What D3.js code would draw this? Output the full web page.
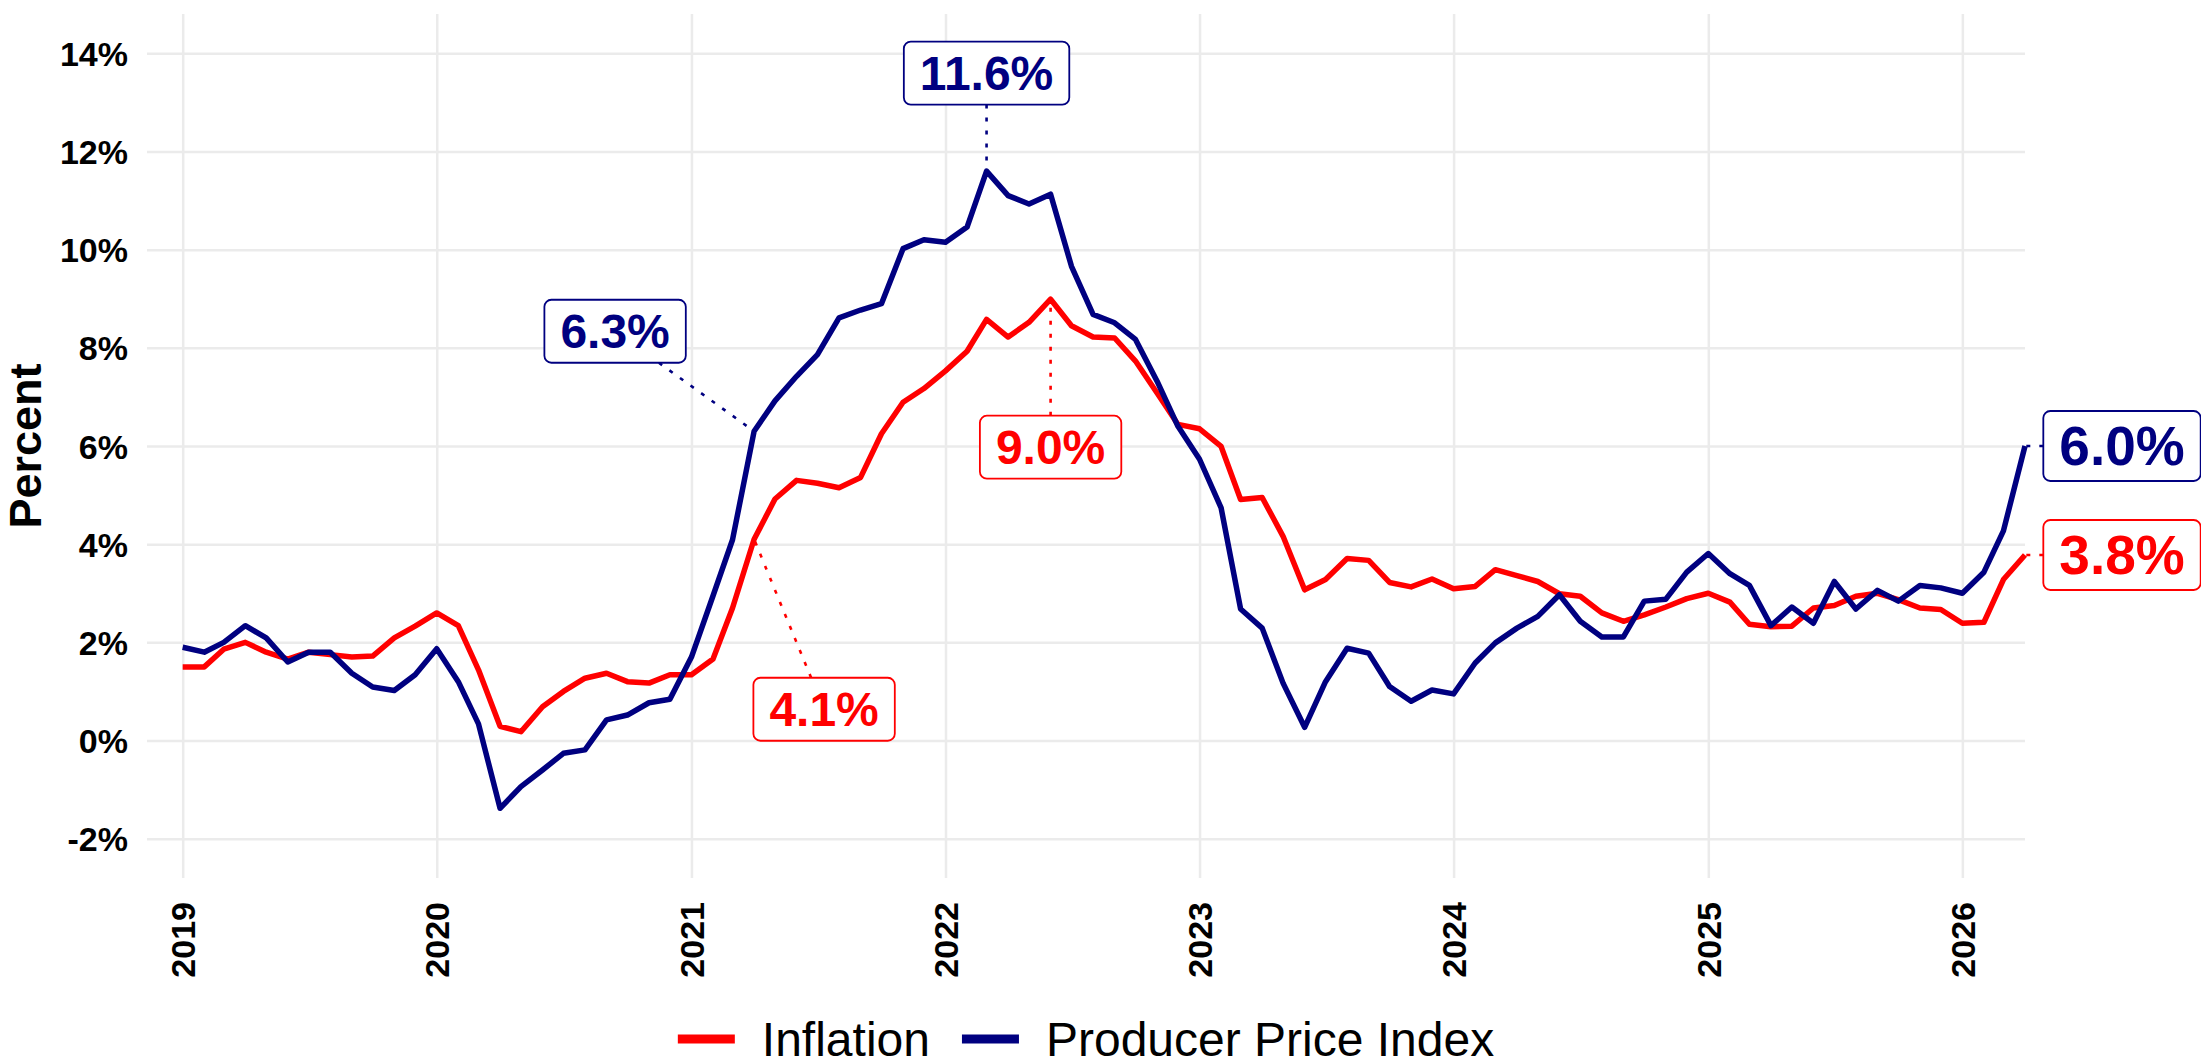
<!DOCTYPE html>
<html>
<head>
<meta charset="utf-8">
<script src="https://cdn.jsdelivr.net/npm/d3@7"></script>
<style>
  body { margin: 0; background: #fff; }
  svg { display: block; font-family: "Liberation Sans", Arial, sans-serif; }
</style>
</head>
<body>
<svg width="2201" height="1064"></svg>
<script>
// monthly, Jan 2019 .. Apr 2026
var firstMonth = new Date(2019, 0, 1);
var lastMonth = new Date(2026, 3, 1);
var months = d3.timeMonth.range(firstMonth, d3.timeMonth.offset(lastMonth, 1));

var inflation = [
    1.50, 1.50, 1.86, 2.00, 1.80, 1.66, 1.80, 1.75, 1.70, 1.72, 2.09, 2.33,   // 2019
    2.60, 2.34, 1.44, 0.29, 0.18, 0.69, 1.00, 1.27, 1.37, 1.20, 1.17, 1.34,   // 2020
    1.34, 1.66, 2.70, 4.10, 4.92, 5.30, 5.24, 5.15, 5.36, 6.25, 6.89, 7.17,   // 2021
    7.53, 7.93, 8.58, 8.22, 8.52, 8.99, 8.45, 8.22, 8.20, 7.73, 7.08, 6.44,   // 2022
    6.35, 5.99, 4.91, 4.95, 4.16, 3.07, 3.28, 3.71, 3.67, 3.22, 3.13, 3.29,   // 2023
    3.09, 3.14, 3.48, 3.36, 3.24, 2.99, 2.94, 2.60, 2.43, 2.56, 2.72, 2.89,   // 2024
    3.00, 2.82, 2.37, 2.32, 2.33, 2.70, 2.75, 2.94, 3.00, 2.87, 2.70, 2.67,   // 2025
    2.39, 2.41, 3.28, 3.78                                                    // 2026
];
var ppi = [
    1.90, 1.80, 2.00, 2.34, 2.09, 1.60, 1.80, 1.80, 1.37, 1.09, 1.02, 1.34,
    1.87, 1.20, 0.34, -1.38, -0.94, -0.60, -0.26, -0.19, 0.42, 0.52, 0.77, 0.84,
    1.70, 2.95, 4.09, 6.30, 6.92, 7.42, 7.86, 8.61, 8.77, 8.90, 10.02, 10.20,
    10.15, 10.46, 11.60, 11.10, 10.93, 11.13, 9.66, 8.68, 8.51, 8.17, 7.32, 6.40,
    5.73, 4.74, 2.68, 2.29, 1.17, 0.27, 1.20, 1.88, 1.78, 1.10, 0.80, 1.03,
    0.95, 1.58, 1.99, 2.29, 2.53, 2.97, 2.43, 2.11, 2.11, 2.84, 2.88, 3.43,
    3.81, 3.40, 3.16, 2.34, 2.72, 2.39, 3.24, 2.68, 3.06, 2.84, 3.16, 3.11,
    3.00, 3.43, 4.27, 6.00
];

var seriesNames = ['Inflation', 'Producer Price Index'];
var seriesColors = ['#ff0000', '#000080'];
var yTicks = [-2, 0, 2, 4, 6, 8, 10, 12, 14];
var xTickYears = [2019, 2020, 2021, 2022, 2023, 2024, 2025, 2026];

// highlighted points: series index, month, label offset
var callouts = [
    { series: 1, month: '2022-03', dx: 0, dy: -98, size: 48 },
    { series: 1, month: '2021-04', dx: -139, dy: -100, size: 48 },
    { series: 0, month: '2022-06', dx: 0, dy: 148, size: 48 },
    { series: 0, month: '2021-04', dx: 70, dy: 170, size: 48 },
    { series: 1, month: '2026-04', dx: 97, dy: 0, size: 55 },
    { series: 0, month: '2026-04', dx: 97, dy: 0, size: 55 }
];

var series = [inflation, ppi].map(function (vals, i) {
    return { name: seriesNames[i], color: seriesColors[i], values: vals };
});

var svg = d3.select('svg');
var plotL = 147, plotR = 2025, plotT = 14, plotB = 878;

var x = d3.scaleTime()
    .domain([firstMonth, lastMonth])
    .range([plotL + 0.019 * (plotR - plotL), plotR]);
var y = d3.scaleLinear()
    .domain([-2.8, 14.8])
    .range([plotB, plotT]);

// grid + axes
var yAxis = svg.append('g')
    .attr('transform', 'translate(' + plotL + ',0)')
    .call(d3.axisLeft(y)
        .tickValues(yTicks)
        .tickSize(-(plotR - plotL))
        .tickPadding(19)
        .tickFormat(function (d) { return d + '%'; }));
yAxis.select('.domain').remove();
yAxis.selectAll('line').attr('stroke', '#ebebeb').attr('stroke-width', 2.5);
yAxis.selectAll('text')
    .attr('fill', '#000')
    .attr('dy', null)
    .attr('dominant-baseline', 'central')
    .style('font-family', '"Liberation Sans", Arial, sans-serif')
    .style('font-size', '34px')
    .style('font-weight', 'bold');

var xAxis = svg.append('g')
    .attr('transform', 'translate(0,' + plotB + ')')
    .call(d3.axisBottom(x)
        .tickValues(xTickYears.map(function (yr) { return new Date(yr, 0, 1); }))
        .tickSize(-(plotB - plotT))
        .tickFormat(d3.timeFormat('%Y')));
xAxis.select('.domain').remove();
xAxis.selectAll('line').attr('stroke', '#ebebeb').attr('stroke-width', 2.5);
xAxis.selectAll('text')
    .attr('fill', '#000')
    .attr('transform', 'rotate(-90)')
    .attr('x', -24)
    .attr('y', 0)
    .attr('dy', null)
    .attr('text-anchor', 'end')
    .attr('dominant-baseline', 'central')
    .style('font-family', '"Liberation Sans", Arial, sans-serif')
    .style('font-size', '34px')
    .style('font-weight', 'bold');

svg.append('text')
    .attr('transform', 'translate(25,' + ((plotT + plotB) / 2) + ') rotate(-90)')
    .attr('text-anchor', 'middle')
    .attr('dominant-baseline', 'central')
    .style('font-size', '45px')
    .style('font-weight', 'bold')
    .text('Percent');

// lines
var line = d3.line()
    .x(function (d, i) { return x(months[i]); })
    .y(function (d) { return y(d); });

svg.append('g').selectAll('path')
    .data(series)
    .enter()
    .append('path')
    .attr('d', function (s) { return line(s.values); })
    .attr('fill', 'none')
    .attr('stroke', function (s) { return s.color; })
    .attr('stroke-width', 5.5)
    .attr('stroke-linejoin', 'round');

// callout labels
var segLayer = svg.append('g');
var boxLayer = svg.append('g');
var fmtMonth = d3.timeFormat('%Y-%m');

callouts.forEach(function (c) {
    var s = series[c.series];
    var i = months.findIndex(function (m) { return fmtMonth(m) === c.month; });
    var v = s.values[i];
    var px = x(months[i]), py = y(v);
    var cx = px + c.dx, cy = py + c.dy;

    var g = boxLayer.append('g');
    var rect = g.append('rect');
    var t = g.append('text')
        .attr('x', cx)
        .attr('y', cy)
        .attr('text-anchor', 'middle')
        .attr('dominant-baseline', 'central')
        .attr('fill', s.color)
        .style('font-size', c.size + 'px')
        .style('font-weight', 'bold')
        .text(v.toFixed(1) + '%');
    var w = t.node().getComputedTextLength() + 32;
    var h = c.size + 15;
    rect.attr('x', cx - w / 2)
        .attr('y', cy - h / 2)
        .attr('width', w)
        .attr('height', h)
        .attr('rx', 7)
        .attr('fill', '#fff')
        .attr('stroke', s.color)
        .attr('stroke-width', 1.8);

    // segment from point to box edge
    var ddx = px - cx, ddy = py - cy;
    var k = Math.min(ddx ? (w / 2) / Math.abs(ddx) : Infinity, ddy ? (h / 2) / Math.abs(ddy) : Infinity);
    var ex = cx + ddx * k, ey = cy + ddy * k;
    segLayer.append('line')
        .attr('x1', ex).attr('y1', ey)
        .attr('x2', px).attr('y2', py)
        .attr('stroke', s.color)
        .attr('stroke-width', 2.6)
        .attr('stroke-dasharray', '4 9');
});

// legend
var legend = svg.append('g');
var lx = 0;
series.forEach(function (s) {
    legend.append('rect')
        .attr('x', lx).attr('y', -4.5)
        .attr('width', 57).attr('height', 9)
        .attr('fill', s.color);
    lx += 57 + 27;
    var lt = legend.append('text')
        .attr('x', lx).attr('y', 0)
        .attr('dominant-baseline', 'central')
        .style('font-size', '48px')
        .text(s.name);
    lx += lt.node().getComputedTextLength() + 32;
});
lx -= 32;
legend.attr('transform', 'translate(' + ((plotL + plotR) / 2 - lx / 2) + ',1039)');
</script>
</body>
</html>
